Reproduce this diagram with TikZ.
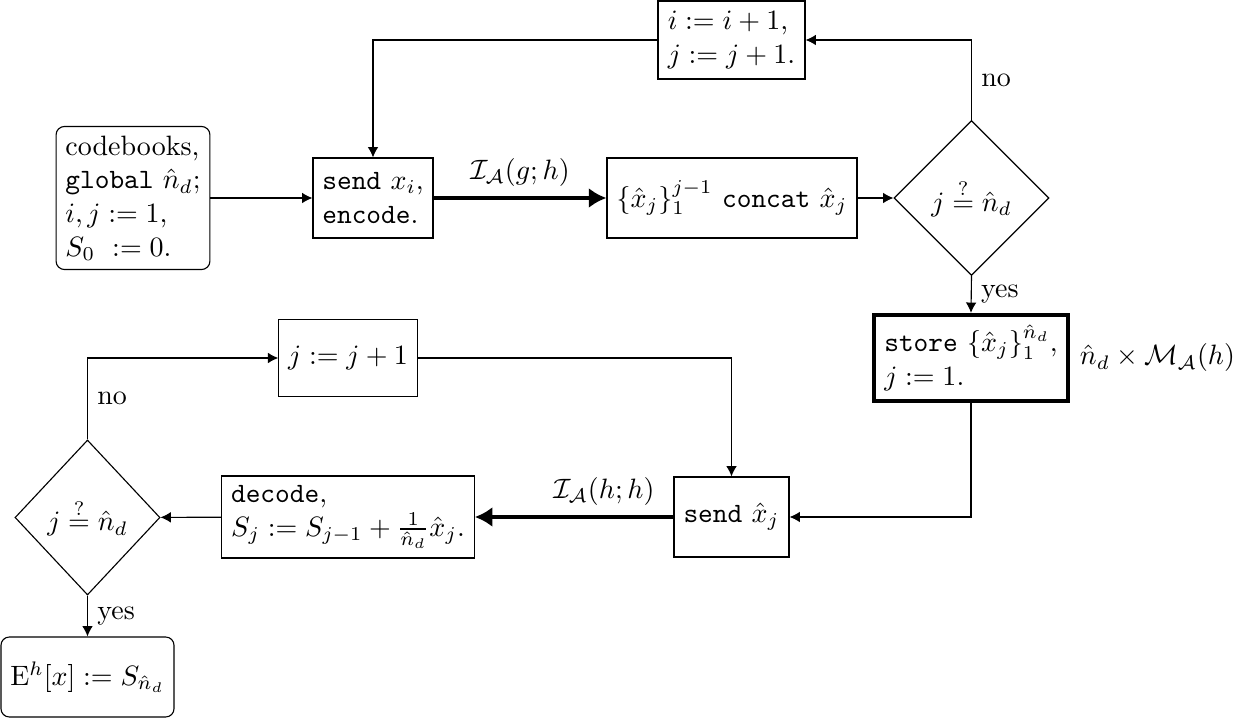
\documentclass[tikz,border=0pt]{standalone}
\usepackage{amsmath,amssymb}
\usetikzlibrary{shapes.geometric,arrows.meta}
\begin{document}
\begin{tikzpicture}[x=0.35714pt,y=-0.35714pt,
  box/.style={draw, rectangle, inner sep=3.33pt, minimum height=80*0.35714pt},
  rbox/.style={box, rounded corners=3pt},
  dia/.style={draw, diamond, inner sep=0pt},
  arr/.style={-{Latex[length=3.7pt,width=3.8pt]}},
  thickarr/.style={-{Latex[length=6.3pt,width=7.2pt]}, line width=1.5pt}]
\useasboundingbox (0,0) rectangle (1250,721);
% top row
\node[rbox, align=left, minimum width=153*0.35714pt, minimum height=143*0.35714pt] (init) at (133,198)
  {codebooks,\\ \texttt{global} $\hat{n}_d$;\\ $i,j:=1$,\\ $S_0\ :=0$.};
\node[box, align=left, minimum width=120*0.35714pt] (sendx) at (373,198) {\texttt{send} $x_i$,\\ \texttt{encode}.};
\node[box, minimum width=250*0.35714pt] (concat) at (732,198) {$\{\hat{x}_j\}_1^{j-1}$ \texttt{concat} $\hat{x}_j$};
\node[dia, minimum width=155*0.35714pt, minimum height=155*0.35714pt] (dia1) at (971.5,198) {$j\stackrel{?}{=}\hat{n}_d$};
\node[box, align=left, minimum width=147*0.35714pt, minimum height=78*0.35714pt] (inc) at (731.5,40) {$i:=i+1$,\\ $j:=j+1$.};
\node[box, align=left, line width=1.5pt, minimum width=194*0.35714pt, minimum height=86*0.35714pt] (store) at (971,358)
  {\texttt{store} $\{\hat{x}_j\}_1^{\hat{n}_d}$,\\ $j:=1$.};
\node[anchor=west] (cost) at (store.east) {$\hat{n}_d\times\mathcal{M}_{\mathcal{A}}(h)$};
% bottom rows
\node[box, minimum width=115*0.35714pt] (sendh) at (731.5,517) {\texttt{send} $\hat{x}_j$};
\node[box, align=left, minimum width=236*0.35714pt, minimum height=82*0.35714pt] (decode) at (348,517)
  {\texttt{decode},\\ $S_j:=S_{j-1}+\frac{1}{\hat{n}_d}\hat{x}_j$.};
\node[dia, minimum width=145*0.35714pt, minimum height=155*0.35714pt] (dia2) at (87.5,517.5) {$j\stackrel{?}{=}\hat{n}_d$};
\node[box, minimum width=130*0.35714pt, minimum height=77*0.35714pt] (inc2) at (348,358) {$j:=j+1$};
\node[rbox, minimum width=161*0.35714pt] (final) at (87.5,677) {$\mathrm{E}^h[x]:=S_{\hat{n}_d}$};
% connectors
\draw[arr] (init) -- (sendx);
\draw[thickarr] (sendx) -- node[above] {$\mathcal{I}_{\mathcal{A}}(g;h)$} (concat);
\draw[arr] (concat) -- (dia1);
\draw[arr] (dia1.north) |- node[pos=0.25, right] {no} (inc.east);
\draw[arr] (inc.west) -| (sendx.north);
\draw[arr] (dia1.south) -- node[right] {yes} (store.north);
\draw[arr] (store.south) |- (sendh.east);
\draw[thickarr] (sendh) -- node[above, pos=0.35] {$\mathcal{I}_{\mathcal{A}}(h;h)$} (decode);
\draw[arr] (decode) -- (dia2);
\draw[arr] (dia2.north) |- node[pos=0.25, right] {no} (inc2.west);
\draw[arr] (inc2.east) -| (sendh.north);
\draw[arr] (dia2.south) -- node[right] {yes} (final.north);
\end{tikzpicture}
\end{document}
